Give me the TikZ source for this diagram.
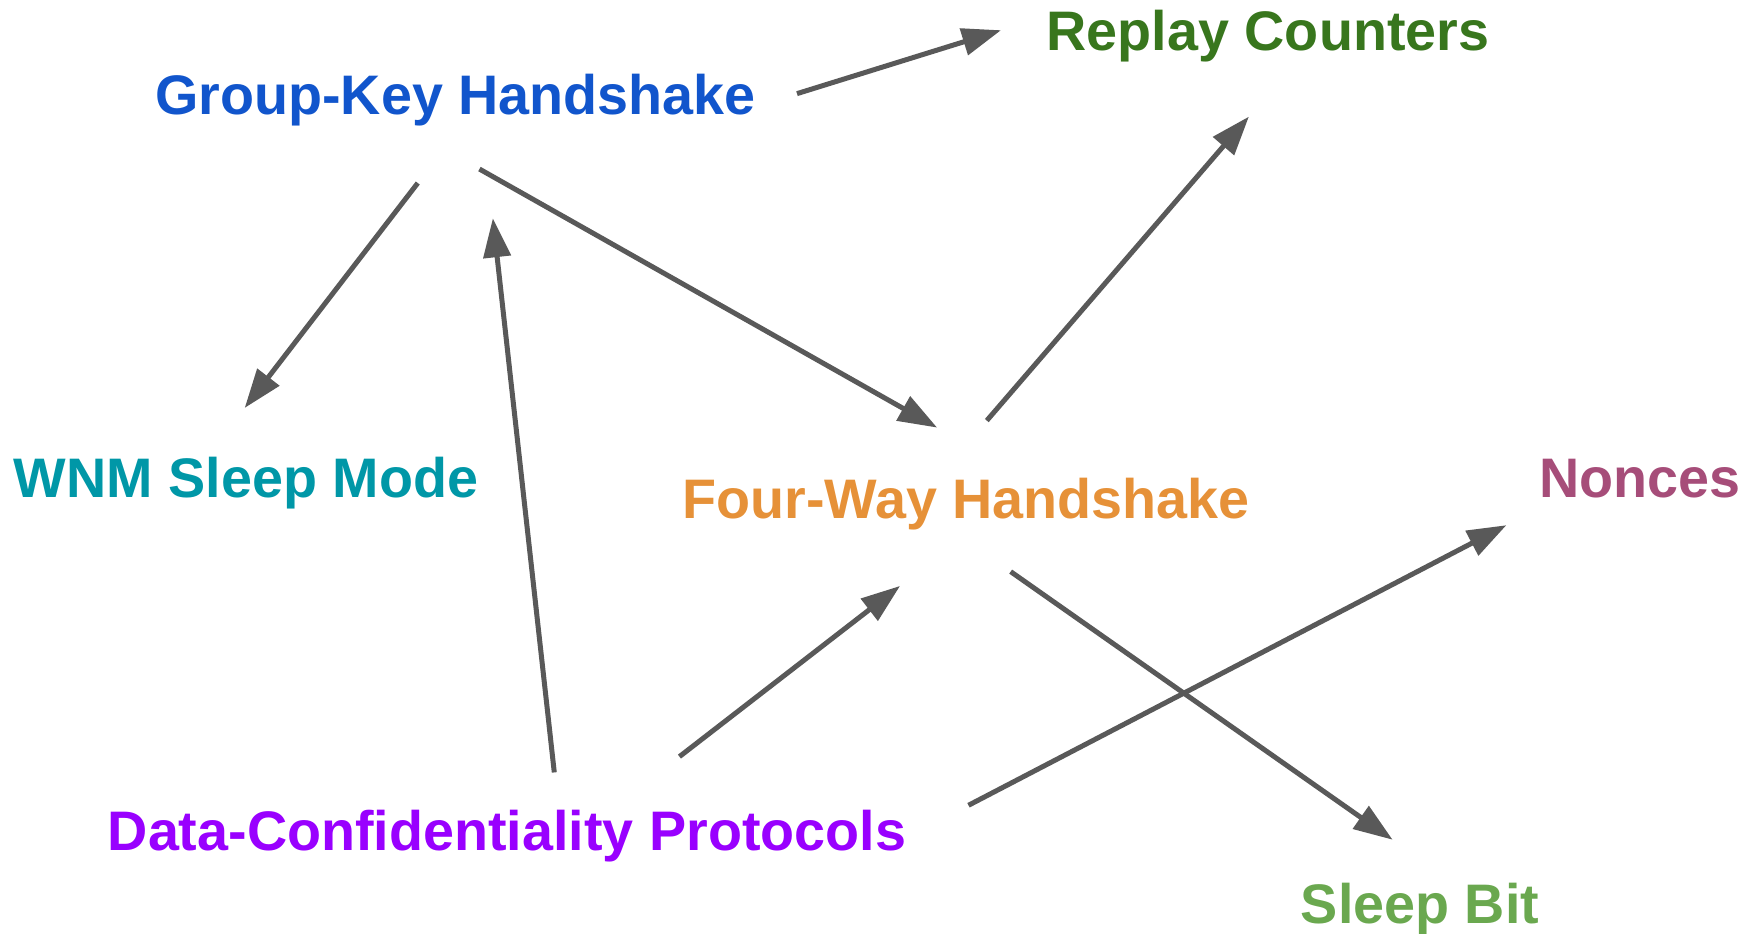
\documentclass[tikz,border=0pt]{standalone}
\usepackage{fontspec}
\setmainfont{Liberation Sans}
\usetikzlibrary{arrows.meta}

\definecolor{gkblue}{HTML}{1155CC}
\definecolor{rcgreen}{HTML}{38761D}
\definecolor{wnmteal}{HTML}{0097A7}
\definecolor{fworange}{HTML}{E69138}
\definecolor{noncepink}{HTML}{A64D79}
\definecolor{dcppurple}{HTML}{9900FF}
\definecolor{sbgreen}{HTML}{6AA84F}
\definecolor{arrowgray}{HTML}{595959}

\begin{document}
\begin{tikzpicture}[x=0.5pt,y=-0.5pt,>={Triangle[length=19.5pt,width=13.5pt]},
  line width=2.5pt,
  term/.style={inner sep=0pt,text height=20.05pt,text depth=5.85pt,
    font=\fontsize{27.85}{33}\selectfont\bfseries}]

  \useasboundingbox (0,0) rectangle (1762,933);

  \node[term,text=gkblue] (gk) at (455.5,100.4) {Group-Key Handshake};
  \node[term,text=rcgreen] (rc) at (1268,36.4) {Replay Counters};
  \node[term,text=wnmteal] (wnm) at (246,483.6) {WNM Sleep Mode};
  \node[term,text=fworange] (fw) at (966,503.8) {Four-Way Handshake};
  \node[term,text=noncepink] (non) at (1640,483.6) {Nonces};
  \node[term,text=dcppurple] (dcp) at (507,836.4) {Data-Confidentiality Protocols};
  \node[term,text=sbgreen] (sb) at (1420,909.5) {Sleep Bit};

  \path[every edge/.append style={draw=arrowgray,->}]
    (gk.-1.5) edge[shorten <=20.3pt,shorten >=22.6pt] (rc.175.9)
    (gk.-82.5) edge[shorten <=34.2pt,shorten >=29.8pt] (wnm.143.2)
    (gk.211) edge[shorten <=40.9pt,shorten >=48.6pt] (fw.27)
    (fw.133.9) edge[shorten <=36.2pt,shorten >=34.2pt] (rc.-48.3)
    (fw.-112.4) edge[shorten <=34.3pt,shorten >=36pt] (sb.42.3)
    (dcp.29.2) edge[shorten <=17.9pt,shorten >=45pt] (gk.-46)
    (dcp.15.4) edge[shorten <=42pt,shorten >=43.9pt] (fw.-83.8)
    (dcp.0.67) edge[shorten <=33.7pt,shorten >=17.2pt] (non.-166.4);
\end{tikzpicture}
\end{document}
